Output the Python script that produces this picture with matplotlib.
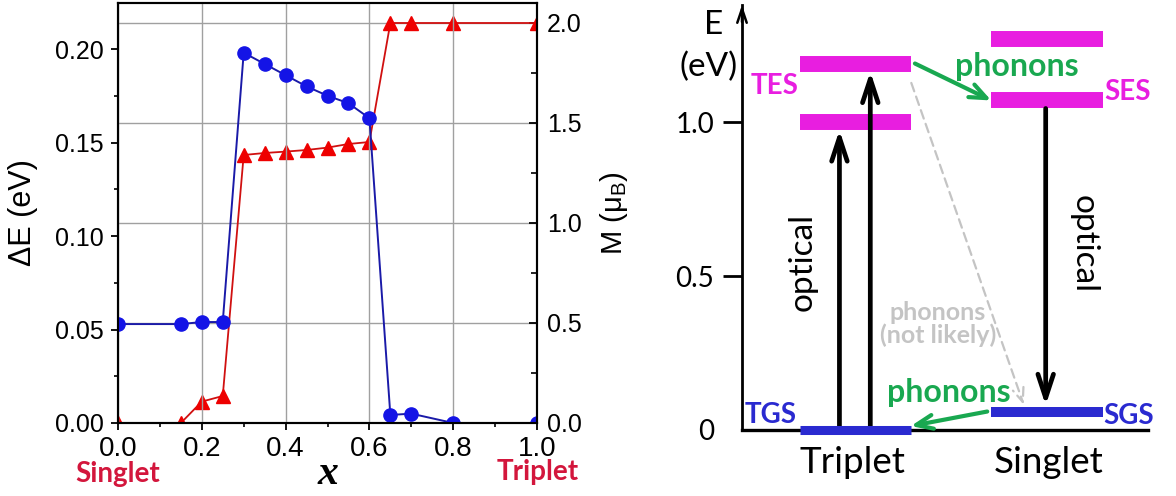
import matplotlib
matplotlib.use("Agg")
import matplotlib.pyplot as plt
from matplotlib.ticker import MultipleLocator, FormatStrFormatter

plt.rcParams["font.family"] = ["Liberation Sans", "DejaVu Sans"]
plt.rcParams["mathtext.fontset"] = "custom"
plt.rcParams["mathtext.rm"] = "Liberation Sans"

# --- data: left panel ---
x = [0.0, 0.15, 0.20, 0.25, 0.30, 0.35, 0.40, 0.45, 0.50, 0.55, 0.60, 0.65, 0.70, 0.80, 1.0]
dE = [0.0529, 0.0529, 0.0540, 0.0540, 0.198, 0.192, 0.186, 0.180, 0.175, 0.171, 0.163,
      0.0043, 0.0050, 0.0, 0.0]
M = [0.0, 0.0, 0.107, 0.135, 1.34, 1.35, 1.357, 1.365, 1.377, 1.395, 1.405,
     2.0, 2.0, 2.0, 2.0]

# --- data: right panel (energy levels, eV) ---
trip_excited = [1.0, 1.19]     # TES
sing_excited = [1.07, 1.27]    # SES
tgs_E = 0.0
sgs_E = 0.06
col_trip, col_sing, half_w = 0.279, 0.751, 0.137

BLUE_L, BLUE_M = "#1a1aa8", "#1414e6"
RED_L, RED_M = "#d01010", "#ee0000"
CRIMSON = "#d3163c"
MAGENTA = "#e81ee0"
LVL_BLUE = "#2a2ad0"
GREEN = "#19a850"
GREY = "#c4c4c4"

fig = plt.figure(figsize=(11.76, 4.96), dpi=100)
fig.patch.set_facecolor("white")

# ================= left: dE and M vs x =================
ax1 = fig.add_axes([118 / 1176, 73 / 496, 419 / 1176, 420 / 496])
ax2 = ax1.twinx()
ax2.set_zorder(ax1.get_zorder() - 1)
ax1.patch.set_visible(False)

ax2.plot(x, M, color=RED_L, lw=1.3, marker="^", ms=10, mfc=RED_M, mec=RED_M)
ax1.plot(x, dE, color=BLUE_L, lw=1.4, marker="o", ms=9.5, mfc=BLUE_M, mec=BLUE_M)

ax1.set_xlim(0, 1)
ax1.set_ylim(0, 0.2246)
ax2.set_ylim(0, 2.1)
ax1.xaxis.set_major_locator(MultipleLocator(0.2))
ax1.xaxis.set_minor_locator(MultipleLocator(0.1))
ax1.yaxis.set_major_locator(MultipleLocator(0.05))
ax1.yaxis.set_minor_locator(MultipleLocator(0.025))
ax2.yaxis.set_major_locator(MultipleLocator(0.5))
ax2.yaxis.set_minor_locator(MultipleLocator(0.25))
ax1.xaxis.set_major_formatter(FormatStrFormatter("%.1f"))
ax1.yaxis.set_major_formatter(FormatStrFormatter("%.2f"))
ax2.yaxis.set_major_formatter(FormatStrFormatter("%.1f"))

ax1.xaxis.grid(True, color="#a0a0a0", lw=1.0)
ax2.yaxis.grid(True, color="#a0a0a0", lw=1.0)

ax1.tick_params(axis="both", which="major", direction="out", length=5, width=1.3, pad=5)
ax1.tick_params(axis="x", labelsize=20, pad=4)
ax1.tick_params(axis="y", labelsize=18)
ax1.tick_params(axis="both", which="minor", direction="out", length=3, width=1.2)
ax1.tick_params(axis="y", right=False)
ax2.tick_params(axis="y", which="major", direction="in", length=6, width=1.3,
                labelsize=18, pad=7)
ax2.tick_params(axis="y", which="minor", direction="in", length=4, width=1.2)
for ax in (ax1, ax2):
    for sp in ax.spines.values():
        sp.set_linewidth(1.5)

ax1.set_ylabel("ΔE (eV)", fontsize=22)
ax1.yaxis.set_label_coords(-0.19, 0.5)
ax2.set_ylabel("M (μ$_{\\rm B}$)", fontsize=21)
ax2.yaxis.set_label_coords(1.145, 0.5)
ax1.set_xlabel("x", fontfamily="Liberation Serif", fontstyle="italic",
               fontweight="bold", fontsize=30)
ax1.xaxis.set_label_coords(0.5, -0.075)

ax1.text(0.0, -0.14, "Singlet", transform=ax1.transAxes, ha="center", va="baseline",
         fontfamily="Lato", fontweight="bold", fontsize=20, color=CRIMSON)
ax1.text(1.002, -0.136, "Triplet", transform=ax1.transAxes, ha="center", va="baseline",
         fontfamily="Lato", fontweight="bold", fontsize=20, color=CRIMSON)

# ================= right: energy diagram =================
rax = fig.add_axes([742 / 1176, 66 / 496, 406 / 1176, 425 / 496])
rax.set_xlim(0, 1)
rax.set_ylim(0, 1.38)
for s in ("top", "right"):
    rax.spines[s].set_visible(False)
rax.spines["left"].set_linewidth(2.0)
rax.spines["bottom"].set_linewidth(2.4)
rax.set_xticks([])
rax.set_yticks([0, 0.5, 1.0])
rax.set_yticklabels(["0", "0.5", "1.0"])
rax.tick_params(axis="y", direction="out", length=14, width=2.0, pad=6)
for lab in rax.get_yticklabels():
    lab.set_fontfamily("Lato")
    lab.set_fontsize(20)
rax.yaxis.get_major_ticks()[0].tick1line.set_visible(False)
rax.annotate("", xy=(0, 1.0), xytext=(0, 0.96), xycoords="axes fraction",
             arrowprops=dict(arrowstyle="->,head_length=0.5,head_width=0.17",
                             lw=1.8, color="black", shrinkA=0, shrinkB=0,
                             mutation_scale=20), annotation_clip=False)

bar_half = 0.026
# levels
rax.hlines(trip_excited, col_trip - half_w, col_trip + half_w, colors=MAGENTA, lw=11.5)
rax.hlines(sing_excited, col_sing - half_w, col_sing + half_w, colors=MAGENTA, lw=11.5)
rax.hlines([tgs_E], col_trip - half_w, col_trip + half_w, colors=LVL_BLUE, lw=6.5,
           clip_on=False, zorder=4)
rax.hlines([sgs_E], col_sing - half_w, col_sing + half_w, colors=LVL_BLUE, lw=7.2,
           zorder=4)

blk = dict(arrowstyle="->,head_length=0.85,head_width=0.28", lw=3.4, color="black",
           shrinkA=0, shrinkB=0, mutation_scale=20)
rax.annotate("", xy=(0.240, trip_excited[0] - bar_half), xytext=(0.240, tgs_E),
             arrowprops=blk)
rax.annotate("", xy=(0.316, trip_excited[1] - bar_half), xytext=(0.316, tgs_E),
             arrowprops=blk)
rax.annotate("", xy=(0.748, sgs_E + 0.02), xytext=(0.748, sing_excited[0] - bar_half),
             arrowprops=blk)

grn = dict(arrowstyle="->,head_length=0.6,head_width=0.25", lw=3.0, color=GREEN,
           shrinkA=0, shrinkB=0, mutation_scale=20)
rax.annotate("", xy=(col_sing - half_w, sing_excited[0]),
             xytext=(col_trip + half_w + 0.01, trip_excited[1]), arrowprops=grn)
rax.annotate("", xy=(col_trip + half_w, tgs_E + 0.013),
             xytext=(col_sing - half_w - 0.01, sgs_E), arrowprops=grn)

rax.annotate("", xy=(0.694, sgs_E + 0.022), xytext=(0.417, trip_excited[1] - 0.063),
             arrowprops=dict(arrowstyle="->,head_length=0.5,head_width=0.2", lw=1.6,
                             ls=(0, (4, 2.5)), color=GREY, shrinkA=0, shrinkB=0,
                             mutation_scale=20))

# texts
tkw = dict(fontfamily="Lato", ha="center", va="center", clip_on=False)
rax.text(-0.071, 1.315, "E", fontsize=24, **tkw)
rax.text(-0.083, 1.179, "(eV)", fontsize=24, **tkw)
rax.text(0.080, 1.117, "TES", fontsize=20, fontweight="bold", color=MAGENTA, **tkw)
rax.text(0.950, 1.096, "SES", fontsize=20, fontweight="bold", color=MAGENTA, **tkw)
rax.text(0.071, 0.049, "TGS", fontsize=20, fontweight="bold", color=LVL_BLUE, **tkw)
rax.text(0.953, 0.045, "SGS", fontsize=20, fontweight="bold", color=LVL_BLUE, **tkw)
rax.text(0.678, 1.18, "phonons", fontsize=23, fontweight="bold", color=GREEN, **tkw)
rax.text(0.509, 0.123, "phonons", fontsize=23, fontweight="bold", color=GREEN, **tkw)
rax.text(0.483, 0.344, "phonons\n(not likely)", fontsize=18, fontweight="bold",
         color=GREY, linespacing=1.0, **tkw)
rax.text(0.150, 0.545, "optical", fontsize=24, rotation=90, **tkw)
rax.text(0.841, 0.604, "optical", fontsize=24, rotation=-90, **tkw)
rax.text(0.272, -0.104, "Triplet", fontsize=26.5, **tkw)
rax.text(0.755, -0.104, "Singlet", fontsize=26.5, **tkw)

fig.savefig("out.png", dpi=100, facecolor="white")
